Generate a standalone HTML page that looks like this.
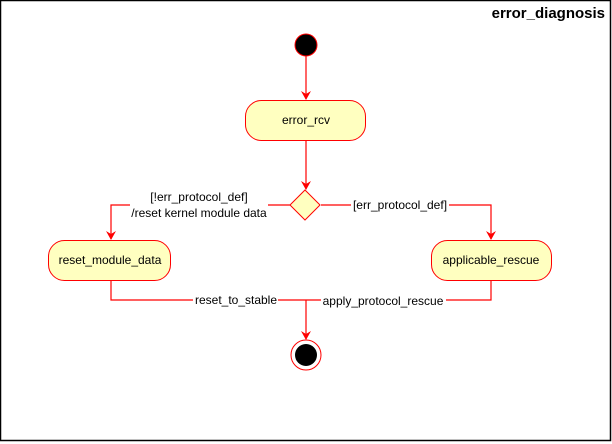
<!DOCTYPE html>
<html><head><meta charset="utf-8"><style>
html,body{margin:0;padding:0;background:#fff;}
svg{display:block;font-family:"Liberation Sans",Arial,sans-serif;}
</style></head><body>
<svg width="612" height="444" viewBox="0 0 612 444" xmlns="http://www.w3.org/2000/svg">
<rect x="0.5" y="0.5" width="610" height="440" fill="#fff" stroke="#000" stroke-width="1.5"/>
<text x="605" y="18" text-anchor="end" font-size="15" font-weight="bold">error_diagnosis</text>
<g stroke="red" stroke-width="1.2" fill="none">
<line x1="306" y1="56" x2="306" y2="99"/>
<line x1="306" y1="140" x2="306" y2="189"/>
<polyline points="290,205 111,205 111,239"/>
<polyline points="321,205 491,205 491,239"/>
<polyline points="111,280 111,300 491,300 491,280"/>
<line x1="306" y1="300" x2="306" y2="339"/>
</g>
<g fill="red">
<path d="M301,91 L306,100 L311,91 L306,94 Z"/>
<path d="M301,181 L306,190 L311,181 L306,184 Z"/>
<path d="M106,231 L111,240 L116,231 L111,234 Z"/>
<path d="M486,231 L491,240 L496,231 L491,234 Z"/>
<path d="M301,331 L306,340 L311,331 L306,334 Z"/>
</g>
<circle cx="306" cy="45" r="11" fill="#000" stroke="red" stroke-width="1"/>
<rect x="245.5" y="100.5" width="120" height="40" rx="16" fill="#ffffc0" stroke="red"/>
<text x="306" y="124" text-anchor="middle" font-size="12">error_rcv</text>
<polygon points="305,190 320,205 305,220 290,205" fill="#ffffc0" stroke="red"/>
<rect x="48.5" y="240.5" width="122" height="40" rx="16" fill="#ffffc0" stroke="red"/>
<text x="110" y="264" text-anchor="middle" font-size="12">reset_module_data</text>
<rect x="431.5" y="240.5" width="120" height="40" rx="16" fill="#ffffc0" stroke="red"/>
<text x="491" y="264" text-anchor="middle" font-size="12">applicable_rescue</text>
<circle cx="306" cy="355" r="15" fill="#fff" stroke="red"/>
<circle cx="306" cy="355" r="11" fill="#000"/>
<rect x="130" y="190" width="138" height="30" fill="#fff"/>
<text x="199" y="201" text-anchor="middle" font-size="12">[!err_protocol_def]</text>
<text x="199" y="217" text-anchor="middle" font-size="12">/reset kernel module data</text>
<rect x="351" y="198" width="98" height="14" fill="#fff"/>
<text x="400" y="209" text-anchor="middle" font-size="12">[err_protocol_def]</text>
<rect x="193" y="293" width="85" height="14" fill="#fff"/>
<text x="236" y="304" text-anchor="middle" font-size="12">reset_to_stable</text>
<rect x="321" y="293" width="125" height="14" fill="#fff"/>
<text x="383" y="305" text-anchor="middle" font-size="12">apply_protocol_rescue</text>
</svg>
</body></html>
